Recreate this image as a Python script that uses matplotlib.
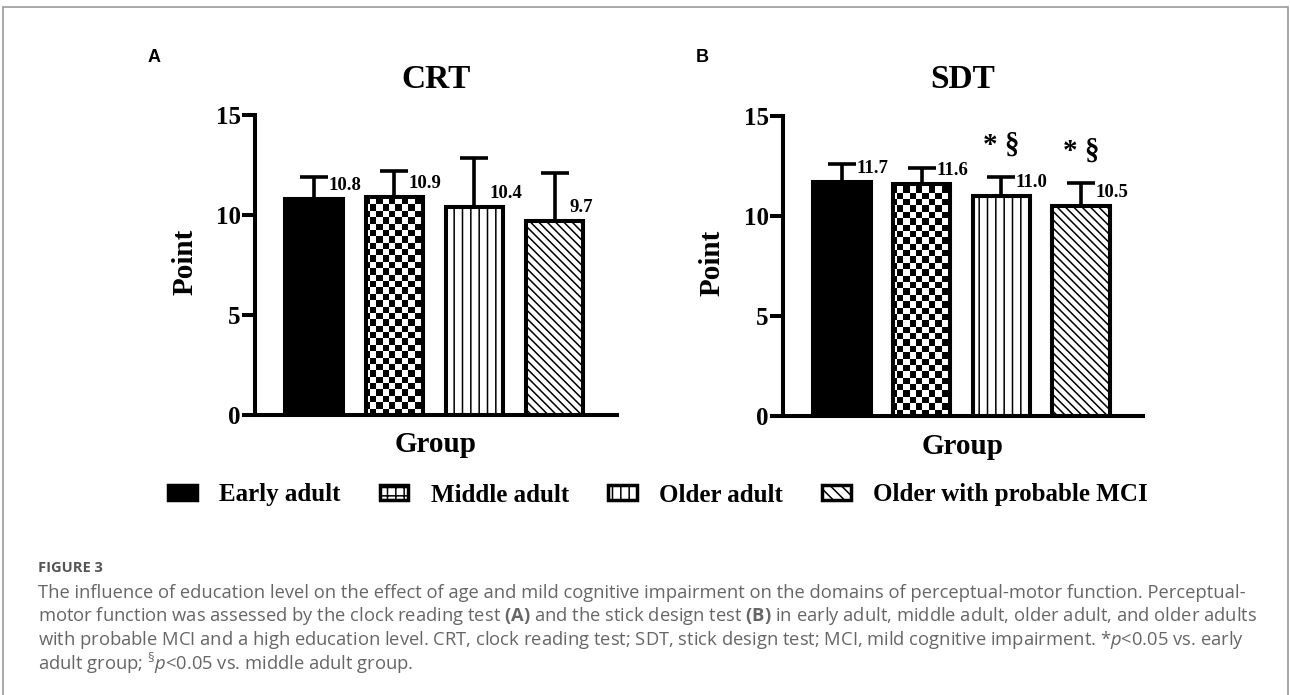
import numpy as np
import matplotlib
matplotlib.use('Agg')
import matplotlib.pyplot as plt
from matplotlib.patches import Patch, Rectangle

# data
groups = ['Early adult', 'Middle adult', 'Older adult', 'Older with probable MCI']
crt_mean = [10.8, 10.9, 10.4, 9.7]
crt_sd = [1.1, 1.3, 2.45, 2.4]
sdt_mean = [11.7, 11.6, 11.0, 10.5]
sdt_sd = [0.9, 0.8, 0.95, 1.15]
sdt_sig = ['', '', '* §', '* §']
crt_sig = ['', '', '', '']

caption_head = 'FIGURE 3'
caption_lines = [
    'The influence of education level on the effect of age and mild cognitive impairment on the domains of perceptual-motor function. Perceptual-',
    'motor function was assessed by the clock reading test $\\mathbf{(A)}$ and the stick design test $\\mathbf{(B)}$ in early adult, middle adult, older adult, and older adults',
    'with probable MCI and a high education level. CRT, clock reading test; SDT, stick design test; MCI, mild cognitive impairment. *$\\mathit{p}$<0.05 vs. early',
    'adult group; $^{\\S}\\mathit{p}$<0.05 vs. middle adult group.',
]

plt.rcParams['font.family'] = ['Liberation Serif', 'DejaVu Serif']
plt.rcParams['font.weight'] = 'bold'
plt.rcParams['hatch.linewidth'] = 1.1
plt.rcParams['mathtext.fontset'] = 'custom'
plt.rcParams['mathtext.rm'] = 'Open Sans:weight=normal'
plt.rcParams['mathtext.it'] = 'Open Sans:style=italic:weight=normal'
plt.rcParams['mathtext.bf'] = 'Open Sans:weight=bold'

W, H = 1290, 695
fig = plt.figure(figsize=(W / 100, H / 100), dpi=100)

hatches = [None, None, '||', '\\\\\\\\']
faces = ['black', 'white', 'white', 'white']
LW = 2.9


def checker(ax, patch, cell=6.3):
    bb = ax.get_window_extent()
    nx = int(bb.width / cell)
    ny = int(bb.height / cell)
    arr = np.add.outer(np.arange(ny), np.arange(nx)) % 2
    x0, x1 = ax.get_xlim()
    y0, y1 = ax.get_ylim()
    im = ax.imshow(arr, cmap='gray', extent=(x0, x1, y0, y1), aspect='auto',
                   interpolation='nearest', origin='lower', zorder=2.2)
    im.set_clip_path(patch)


def panel(rect, means, sds, sig, title, letter, letter_x, ylab_x):
    ax = fig.add_axes(rect)
    x = np.arange(len(means))
    ax.set_xlim(-0.74, 3.78)
    ax.set_ylim(0, 15)
    bars = ax.bar(x, means, width=0.72, color=faces, edgecolor='black',
                  linewidth=LW, zorder=2)
    for b, h in zip(bars, hatches):
        if h:
            b.set_hatch(h)
    checker(ax, bars[1])
    ax.bar(x, means, width=0.72, fill=False, edgecolor='black', linewidth=LW, zorder=3)
    ax.set_xlim(-0.74, 3.78)
    ax.set_ylim(0, 15)
    ax.errorbar(x, means, yerr=[np.zeros(len(sds)), sds], fmt='none', ecolor='black',
                elinewidth=2.6, capsize=10.4, capthick=2.6, zorder=1)
    for xi, m, s, t in zip(x, means, sds, sig):
        ax.annotate(f'{m:.1f}', (xi, m), xytext=(10.5, 9.5), textcoords='offset points',
                    ha='left', va='center', fontsize=13.5, fontweight='bold')
        if t:
            ax.annotate(t, (xi, m + s), xytext=(0, 23), textcoords='offset points',
                        ha='center', va='center', fontsize=21, fontweight='bold')
    for side in ['top', 'right']:
        ax.spines[side].set_visible(False)
    for side in ['left', 'bottom']:
        ax.spines[side].set_linewidth(LW)
    ax.set_xticks([])
    ax.set_yticks([0, 5, 10, 15])
    ax.tick_params(axis='y', length=9.4, width=LW, labelsize=18, pad=1)
    for lab in ax.get_yticklabels():
        lab.set_fontweight('bold')
    ax.set_ylabel('Point', fontsize=21, fontweight='bold', va='center')
    ax.yaxis.set_label_coords(ylab_x, 0.51)
    ax.set_xlabel('Group', fontsize=21, fontweight='bold', va='center')
    ax.xaxis.set_label_coords(0.5, -0.1)
    ax.text(0.5, 1.12, title, transform=ax.transAxes, ha='center', va='center',
            fontsize=24, fontweight='bold')
    fig.text(letter_x / W, 1 - 57 / H, letter, ha='center', va='center',
             fontsize=13, fontweight='bold', family='Liberation Sans')
    return ax


panel([255 / W, 1 - 415 / H, 362 / W, 300 / H], crt_mean, crt_sd, crt_sig, 'CRT', 'A', 154, -0.193)
panel([783 / W, 1 - 416 / H, 360 / W, 300 / H], sdt_mean, sdt_sd, sdt_sig, 'SDT', 'B', 702, -0.197)

# legend
handles = [
    Patch(facecolor='black', edgecolor='black', linewidth=2.5),
    Patch(facecolor='white', edgecolor='black', hatch='++', linewidth=2.5),
    Patch(facecolor='white', edgecolor='black', hatch='||', linewidth=2.5),
    Patch(facecolor='white', edgecolor='black', hatch='\\\\\\', linewidth=2.5),
]
fig.legend(handles, groups, loc='center', bbox_to_anchor=(658 / W, 1 - 495 / H), ncol=4,
           frameon=False, prop={'family': 'Liberation Serif', 'weight': 'bold', 'size': 18},
           handlelength=1.15, handleheight=0.52, handletextpad=0.9, columnspacing=1.55)

# frame around the figure
fig.add_artist(Rectangle((3 / W, -0.1), 1285 / W, 1.1 - 7 / H, transform=fig.transFigure,
                         fill=False, edgecolor='#9a9a9a', linewidth=1.2, clip_on=False))

# caption
fig.text(38 / W, 1 - 568 / H, caption_head, ha='left', va='center', fontsize=10.5,
         family='Open Sans', fontweight='bold', color='#555555')
for i, line in enumerate(caption_lines):
    fig.text(38 / W, 1 - (593 + 23.4 * i) / H, line, ha='left', va='center', fontsize=13.2,
             family='Open Sans', fontweight='normal', color='#666666')

fig.savefig('out.png', dpi=100)
